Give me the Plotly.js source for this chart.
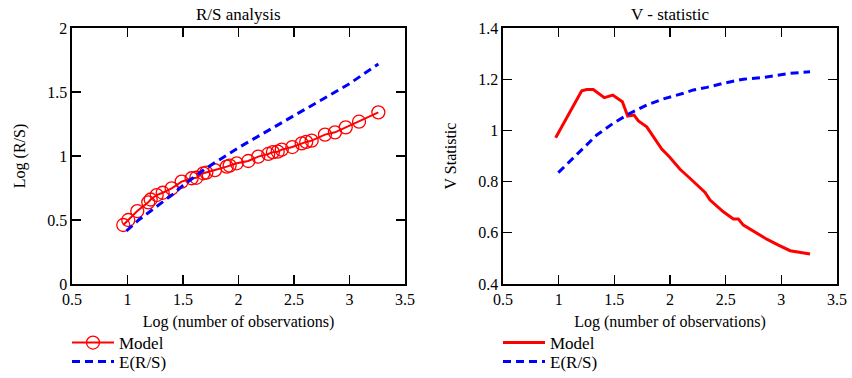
<!DOCTYPE html>
<html>
<head>
<meta charset="utf-8">
<script src="https://cdn.plot.ly/plotly-3.0.1.min.js"></script>
<style>html,body{margin:0;padding:0;background:#fff;}#chart{width:852px;height:378px;}</style>
</head>
<body>
<div id="chart"></div>
<script>
// R/S analysis (left panel)
const rsModelX = [0.962, 1.007, 1.088, 1.187, 1.209, 1.263, 1.317, 1.398, 1.488, 1.578, 1.62, 1.683, 1.71, 1.788, 1.894, 1.92, 1.984, 2.088, 2.178, 2.268, 2.31, 2.353, 2.39, 2.485, 2.569, 2.61, 2.659, 2.779, 2.869, 2.966, 3.086, 3.26];
const rsModelY = [0.461, 0.50, 0.570, 0.638, 0.66, 0.695, 0.713, 0.747, 0.80, 0.826, 0.83, 0.865, 0.87, 0.89, 0.917, 0.925, 0.943, 0.961, 0.995, 1.016, 1.03, 1.034, 1.05, 1.07, 1.099, 1.11, 1.12, 1.167, 1.185, 1.224, 1.268, 1.341];
const rsExpX = [0.99, 1.1, 1.2, 1.3, 1.4, 1.5, 1.6, 1.7, 1.8, 1.9, 2.0, 2.2, 2.4, 2.6, 2.8, 3.0, 3.26];
const rsExpY = [0.414, 0.50, 0.565, 0.63, 0.695, 0.77, 0.835, 0.90, 0.955, 1.01, 1.065, 1.165, 1.265, 1.36, 1.46, 1.565, 1.719];

// V - statistic (right panel)
const vModelX = [0.973, 1.207, 1.252, 1.311, 1.410, 1.486, 1.572, 1.620, 1.677, 1.716, 1.791, 1.926, 1.994, 2.090, 2.174, 2.255, 2.315, 2.360, 2.479, 2.569, 2.614, 2.659, 2.764, 2.869, 2.974, 3.079, 3.258];
const vModelY = [0.971, 1.155, 1.160, 1.160, 1.128, 1.138, 1.112, 1.056, 1.060, 1.037, 1.014, 0.927, 0.897, 0.848, 0.815, 0.780, 0.758, 0.728, 0.682, 0.654, 0.654, 0.630, 0.602, 0.575, 0.552, 0.530, 0.517];
const vExpX = [0.997, 1.19, 1.342, 1.491, 1.641, 1.791, 1.94, 2.12, 2.21, 2.33, 2.479, 2.659, 2.839, 3.079, 3.258];
const vExpY = [0.835, 0.917, 0.982, 1.028, 1.067, 1.099, 1.123, 1.145, 1.158, 1.168, 1.184, 1.200, 1.207, 1.223, 1.229];

const titles = ["R/S analysis", "V - statistic"];
const xTitle = "Log (number of observations)";
const yTitles = ["Log (R/S)", "V Statistic"];
const seriesNames = ["Model", "E(R/S)"];

const FONT = "Liberation Serif";
const RED = "#ff0000", BLUE = "#0000ff";
const f = (s) => ({family: FONT, size: s, color: "#000"});

const traces = [
  {x: rsModelX, y: rsModelY, name: seriesNames[0], type: "scatter", mode: "lines+markers",
   line: {color: RED, width: 2}, marker: {symbol: "circle-open", size: 13, color: RED, line: {width: 1.3}},
   xaxis: "x", yaxis: "y", legend: "legend"},
  {x: rsExpX, y: rsExpY, name: seriesNames[1], type: "scatter", mode: "lines",
   line: {color: BLUE, width: 3, dash: "8px,5px"}, xaxis: "x", yaxis: "y", legend: "legend2"},
  {x: vModelX, y: vModelY, name: seriesNames[0], type: "scatter", mode: "lines",
   line: {color: RED, width: 3}, xaxis: "x2", yaxis: "y2", legend: "legend3"},
  {x: vExpX, y: vExpY, name: seriesNames[1], type: "scatter", mode: "lines",
   line: {color: BLUE, width: 3, dash: "8px,5px"}, xaxis: "x2", yaxis: "y2", legend: "legend4"}
];

function xa(domain, anchor) {
  return {domain: domain, anchor: anchor, range: [0.5, 3.5], dtick: 0.5, tick0: 0.5,
    ticks: "inside", ticklen: 9, tickwidth: 1.3, tickcolor: "#000",
    showline: true, linecolor: "#000", linewidth: 1.6, mirror: "ticks",
    showgrid: false, zeroline: false, automargin: false,
    tickfont: f(16),
    title: {text: xTitle, font: f(16), standoff: 9}};
}
function ya(range, dtick, anchor, title) {
  return {domain: [0, 1], anchor: anchor, range: range, dtick: dtick, tick0: range[0],
    ticks: "inside", ticklen: 9, tickwidth: 1.3, tickcolor: "#000",
    showline: true, linecolor: "#000", linewidth: 1.6, mirror: "ticks",
    showgrid: false, zeroline: false, automargin: false,
    tickfont: f(16),
    title: {text: title, font: f(16), standoff: 17}};
}

const leftDom = [0, 333 / 765];
const rightDom = [431 / 765, 1];

function leg(x, y) {
  return {xref: "paper", yref: "paper", x: x, y: y, xanchor: "left", yanchor: "top",
    orientation: "h", bgcolor: "rgba(0,0,0,0)", font: f(17), itemwidth: 42};
}

const layout = {
  width: 852, height: 378,
  margin: {l: 72, r: 15, t: 28, b: 94, autoexpand: false},
  paper_bgcolor: "#fff", plot_bgcolor: "#fff",
  font: f(16),
  xaxis: xa(leftDom, "y"),
  yaxis: ya([0, 2], 0.5, "x", yTitles[0]),
  xaxis2: xa(rightDom, "y2"),
  yaxis2: ya([0.4, 1.4], 0.2, "x2", yTitles[1]),
  annotations: [
    {text: titles[0], xref: "x domain", yref: "paper", x: 0.5, y: 1, yshift: 14, showarrow: false,
     font: f(17), xanchor: "center", yanchor: "middle"},
    {text: titles[1], xref: "x2 domain", yref: "paper", x: 0.5, y: 1, yshift: 14, showarrow: false,
     font: f(17), xanchor: "center", yanchor: "middle"}
  ],
  legend: leg(-5 / 765, -41 / 256),
  legend2: leg(-5 / 765, -60 / 256),
  legend3: leg(426 / 765, -41 / 256),
  legend4: leg(426 / 765, -60 / 256),
  showlegend: true
};

Plotly.newPlot("chart", traces, layout, {displayModeBar: false, staticPlot: true});
</script>
</body>
</html>
